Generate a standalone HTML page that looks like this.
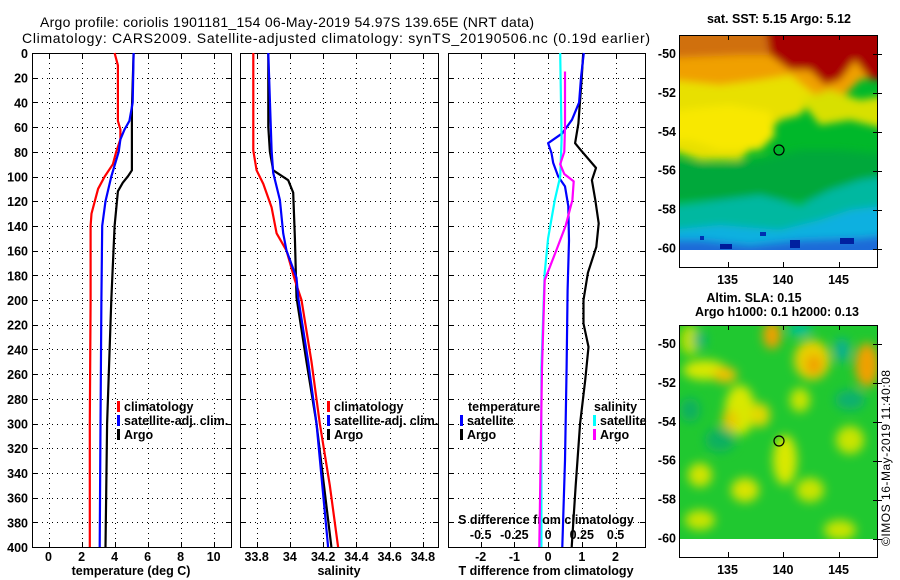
<!DOCTYPE html>
<html><head><meta charset="utf-8">
<style>
html,body{margin:0;padding:0;background:#fff;}
svg{display:block;font-family:"Liberation Sans",sans-serif;}
.t{font-size:12.5px;font-weight:bold;fill:#000;}
.ttl{font-size:14px;fill:#000;}
</style></head>
<body>
<svg id="chart" width="900" height="580" viewBox="0 0 900 580" xmlns="http://www.w3.org/2000/svg">
<defs>
<filter id="blur1" x="-20%" y="-20%" width="140%" height="140%"><feGaussianBlur stdDeviation="4"/></filter>
<filter id="blur2" x="-20%" y="-20%" width="140%" height="140%"><feGaussianBlur stdDeviation="5"/></filter>
<clipPath id="clipm1"><rect x="680" y="35" width="198" height="215"/></clipPath>
<clipPath id="clipm2"><rect x="680" y="325" width="198" height="214"/></clipPath>
</defs>
<text class="ttl" x="40" y="27" textLength="494">Argo profile: coriolis 1901181_154 06-May-2019 54.97S 139.65E (NRT data)</text>
<text class="ttl" x="22" y="43" textLength="628">Climatology: CARS2009. Satellite-adjusted climatology: synTS_20190506.nc (0.19d earlier)</text>

<!-- Map 1 SST -->
<g clip-path="url(#clipm1)">
<rect x="680" y="35" width="198" height="215" fill="#00b82a"/>
<g filter="url(#blur1)">
<path d="M670 25 H890 V75 L860 80 L845 95 L820 110 L790 100 L760 120 L730 110 L700 115 L670 112 Z" fill="#f0a000"/>
<path d="M670 25 H890 V50 L800 55 L740 55 L670 58 Z" fill="#d07010"/>
<path d="M765 25 H890 V78 L870 80 L855 60 L840 80 L825 85 L810 70 L790 70 L770 55 Z" fill="#a80000"/>
<path d="M670 80 L720 85 L760 80 L790 75 L815 95 L800 115 L780 120 L760 140 L740 160 L700 160 L670 150 Z" fill="#e8e000"/>
<path d="M800 100 L830 90 L860 100 L890 95 V130 L850 120 L820 125 Z" fill="#d8e000"/>
<path d="M670 112 L700 108 L730 105 L770 112 L775 135 L760 150 L720 150 L690 140 L670 140 Z" fill="#f8e800"/>
<path d="M670 160 L720 165 L760 160 L800 150 L840 150 L890 155 V200 H670 Z" fill="#00a83a"/>
<path d="M670 205 L720 200 L760 195 L800 205 L830 190 L860 180 L890 175 V260 H670 Z" fill="#00b8a0"/>
<path d="M670 230 L720 225 L780 230 L820 220 L850 210 L890 205 V260 H670 Z" fill="#10b0e0"/>
<path d="M670 240 L700 240 L750 245 L800 240 L860 238 L890 235 V260 H670 Z" fill="#1e6ad8"/>
</g>
<rect x="720" y="244" width="12" height="5" fill="#001a9a"/>
<rect x="790" y="240" width="10" height="8" fill="#0020a0"/>
<rect x="840" y="238" width="14" height="6" fill="#0020a0"/>
<rect x="760" y="232" width="6" height="4" fill="#0030b0"/>
<rect x="700" y="236" width="4" height="4" fill="#0030b0"/>
</g>
<rect x="680" y="250" width="198" height="17" fill="#fff"/>
<rect x="679.5" y="35.5" width="198" height="232" fill="none" stroke="#000" stroke-width="1"/>
<circle cx="779" cy="150" r="5" fill="none" stroke="#000" stroke-width="1.2"/>
<text class="t" x="779" y="23" text-anchor="middle">sat. SST: 5.15 Argo: 5.12</text>

<!-- Map 2 SLA -->
<g clip-path="url(#clipm2)">
<rect x="680" y="325" width="198" height="214" fill="#20c830"/>
<g filter="url(#blur2)">
<ellipse cx="690" cy="340" rx="10" ry="15" fill="#b8e000"/>
<ellipse cx="705" cy="370" rx="22" ry="10" fill="#d8e800"/>
<ellipse cx="725" cy="375" rx="12" ry="8" fill="#f0c000"/>
<ellipse cx="740" cy="410" rx="15" ry="25" fill="#d8e800"/>
<ellipse cx="730" cy="420" rx="8" ry="10" fill="#e8c800"/>
<ellipse cx="760" cy="415" rx="10" ry="12" fill="#e0d800"/>
<ellipse cx="772" cy="335" rx="9" ry="14" fill="#f0a000"/>
<ellipse cx="812" cy="360" rx="18" ry="20" fill="#e8d000"/>
<ellipse cx="814" cy="365" rx="8" ry="10" fill="#f0a000"/>
<ellipse cx="867" cy="365" rx="12" ry="22" fill="#f0a000"/>
<ellipse cx="800" cy="400" rx="10" ry="12" fill="#c8e400"/>
<ellipse cx="785" cy="460" rx="12" ry="25" fill="#d8e800"/>
<ellipse cx="700" cy="475" rx="12" ry="12" fill="#d0e400"/>
<ellipse cx="745" cy="490" rx="14" ry="12" fill="#d8e400"/>
<ellipse cx="810" cy="490" rx="14" ry="12" fill="#c8e400"/>
<ellipse cx="850" cy="440" rx="14" ry="14" fill="#c8e400"/>
<ellipse cx="840" cy="530" rx="16" ry="10" fill="#c8e400"/>
<ellipse cx="700" cy="520" rx="15" ry="10" fill="#c8e400"/>
<ellipse cx="700" cy="340" rx="6" ry="8" fill="#00b080"/>
<ellipse cx="800" cy="330" rx="12" ry="6" fill="#00c0a0"/>
<ellipse cx="842" cy="350" rx="8" ry="12" fill="#10b090"/>
<ellipse cx="850" cy="400" rx="15" ry="10" fill="#10b070"/>
<ellipse cx="720" cy="440" rx="15" ry="12" fill="#10b060"/>
<ellipse cx="690" cy="410" rx="10" ry="12" fill="#10b060"/>
</g>
</g>
<rect x="680" y="539" width="198" height="18" fill="#fff"/>
<rect x="679.5" y="325.5" width="198" height="232" fill="none" stroke="#000" stroke-width="1"/>
<circle cx="779" cy="441" r="5" fill="none" stroke="#000" stroke-width="1.2"/>
<text class="t" x="754" y="302" text-anchor="middle">Altim. SLA: 0.15</text>
<text class="t" x="777" y="316" text-anchor="middle">Argo h1000: 0.1 h2000: 0.13</text>
<text x="0" y="0" font-size="12" textLength="176" transform="translate(890,546) rotate(-90)">©IMOS 16-May-2019 11:40:08</text>
<g id="dyn"></g>
</svg>
<script>
// ---------- data ----------
const depthTicks = [0,20,40,60,80,100,120,140,160,180,200,220,240,260,280,300,320,340,360,380,400];
const tempTicks = [0,2,4,6,8,10];
const salTicks = [33.8,34,34.2,34.4,34.6,34.8];
const tdiffTicks = [-2,-1,0,1,2];
const sdiffTicks = [-0.5,-0.25,0,0.25,0.5];
const sdiffTickLabels = ["-0.5","-0.25","0","0.25","0.5"];
const lonTicks = [135,140,145];
const latTicks = [-50,-52,-54,-56,-58,-60];

const tClimDepth = [0,10,55,62,70,80,90,100,110,120,130,140,200,300,400];
const tClimVal   = [4.0,4.2,4.2,4.35,4.35,4.1,3.9,3.4,3.0,2.8,2.6,2.55,2.55,2.5,2.5];
const tSatDepth = [0,40,55,62,70,80,100,120,140,200,300,400];
const tSatVal   = [5.15,5.1,4.9,4.6,4.35,4.25,3.8,3.45,3.25,3.2,3.15,3.1];
const tArgoDepth = [0,45,95,100,105,112,140,200,300,400];
const tArgoVal   = [5.15,5.05,5.05,4.8,4.5,4.2,4.0,3.8,3.55,3.45];

const sClimDepth = [0,79,95,106,125,146,160,184,200,250,300,350,400];
const sClimVal   = [33.78,33.78,33.8,33.84,33.89,33.92,33.98,34.03,34.07,34.13,34.18,34.24,34.29];
const sSatDepth = [0,79,97,119,146,160,182,198,250,300,400];
const sSatVal   = [33.87,33.89,33.9,33.94,33.96,33.98,34.04,34.05,34.11,34.16,34.23];
const sArgoDepth = [0,60,80,95,103,113,150,198,250,300,400];
const sArgoVal   = [33.87,33.87,33.88,33.9,33.99,34.02,34.03,34.04,34.1,34.16,34.25];

const dTSatDepth = [0,19,40,54,65,73,81,89,100,108,124,152,192,255,330,400];
const dTSatVal   = [1.06,0.98,0.92,0.71,0.42,0.0,0.1,0.15,0.3,0.5,0.6,0.62,0.58,0.55,0.5,0.42];
const dTArgoDepth = [0,19,57,73,78,93,103,119,138,157,178,200,219,238,265,300,350,400];
const dTArgoVal   = [1.04,1.0,0.9,0.8,0.95,1.42,1.3,1.4,1.5,1.43,1.18,1.05,1.05,1.2,1.1,0.95,0.82,0.7];
const dSSatDepth = [0,70,100,119,150,178,255,400];
const dSSatVal   = [0.09,0.1,0.09,0.05,0.0,-0.025,-0.05,-0.05];
const dSArgoDepth = [15,60,80,90,98,104,119,140,160,184,255,400];
const dSArgoVal   = [0.125,0.125,0.12,0.09,0.12,0.19,0.18,0.13,0.06,-0.025,-0.045,-0.065];

// ---------- helpers ----------
const NS = "http://www.w3.org/2000/svg";
const root = document.getElementById('dyn');
function mk(tag, attrs, parent){ const e=document.createElementNS(NS,tag); for(const k in attrs) e.setAttribute(k,attrs[k]); (parent||root).appendChild(e); return e; }
const Y0=53, Y1=547;
function yD(d){ return Y0 + d*(Y1-Y0)/400; }

const panels = [
  {x0:32, x1:231, lo:-1.0, hi:11.05, name:'temperature-panel'},
  {x0:240, x1:438, lo:33.7, hi:34.891, name:'salinity-panel'},
  {x0:448, x1:645, lo:-2.97, hi:2.875, name:'difference-panel'}
];
function xf(p,v){ return p.x0 + (v-p.lo)*(p.x1-p.x0)/(p.hi-p.lo); }

panels.forEach((p,i)=>{
  const g = mk('g',{});
  
  
  const fr = mk('rect',{x:p.x0+0.5,y:Y0+0.5,width:p.x1-p.x0,height:Y1-Y0,fill:'none',stroke:'#000','stroke-width':1},g);
  
  
  depthTicks.forEach(d=>{
    if(d===0||d===400) return;
    const y=Math.round(yD(d))+0.5;
    const l = mk('line',{x1:p.x0,x2:p.x1,y1:y,y2:y,stroke:'#000','stroke-dasharray':'1,4','stroke-width':1},g);
    
    
    mk('line',{x1:p.x0,x2:p.x0+5,y1:y,y2:y,stroke:'#000'},g);
    mk('line',{x1:p.x1-5,x2:p.x1,y1:y,y2:y,stroke:'#000'},g);
  });
  const ticks = i===0?tempTicks:(i===1?salTicks:tdiffTicks);
  ticks.forEach(t=>{
    const x=Math.round(xf(p,t))+0.5;
    const l = mk('line',{x1:x,x2:x,y1:Y0,y2:Y1,stroke:'#000','stroke-dasharray':'1,4','stroke-width':1},g);
    
    
    mk('line',{x1:x,x2:x,y1:Y0,y2:Y0+5,stroke:'#000'},g);
    mk('line',{x1:x,x2:x,y1:Y1-5,y2:Y1,stroke:'#000'},g);
    const tx = mk('text',{x:xf(p,t),y:561,'text-anchor':'middle','class':'t'},g);
    
    
    tx.textContent = String(t);
  });
});

// depth labels
depthTicks.forEach(d=>{
  const tx = mk('text',{x:28,y:yD(d)+5,'text-anchor':'end','class':'t'});
  
  
  tx.textContent = String(d);
});

// axis titles
[[131,'temperature (deg C)','temperature-axis-title'],[339,'salinity','salinity-axis-title'],[546,'T difference from climatology','t-difference-axis-title']].forEach(a=>{
  const tx = mk('text',{x:a[0],y:575,'text-anchor':'middle','class':'t'});
  
  
  tx.textContent=a[1];
});
{
  const tx = mk('text',{x:546,y:524,'text-anchor':'middle','class':'t'});
  
  
  tx.textContent='S difference from climatology';
  sdiffTicks.forEach((s,k)=>{
    const t = mk('text',{x:xf(panels[2],s*4),y:539,'text-anchor':'middle','class':'t'});
    
    
    t.textContent=sdiffTickLabels[k];
  });
}

function series(p, depths, vals, color, name, scale){
  const pts = depths.map((d,k)=> xf(p, vals[k]*(scale||1)).toFixed(1)+','+yD(d).toFixed(1)).join(' ');
  const l = mk('polyline',{points:pts,fill:'none',stroke:color,'stroke-width':2.2,'stroke-linejoin':'round'});
  
  
}
series(panels[0], tClimDepth, tClimVal, '#ff0000', 'temperature-climatology-line');
series(panels[0], tArgoDepth, tArgoVal, '#000000', 'temperature-argo-line');
series(panels[0], tSatDepth, tSatVal, '#0000ff', 'temperature-satellite-line');
series(panels[1], sArgoDepth, sArgoVal, '#000000', 'salinity-argo-line');
series(panels[1], sClimDepth, sClimVal, '#ff0000', 'salinity-climatology-line');
series(panels[1], sSatDepth, sSatVal, '#0000ff', 'salinity-satellite-line');
series(panels[2], dTArgoDepth, dTArgoVal, '#000000', 't-diff-argo-line');
series(panels[2], dTSatDepth, dTSatVal, '#0000ff', 't-diff-satellite-line');
series(panels[2], dSSatDepth, dSSatVal, '#00ffff', 's-diff-satellite-line', 4);
series(panels[2], dSArgoDepth, dSArgoVal, '#ff00ff', 's-diff-argo-line', 4);

function legend(x, y, color, label, name){
  const g = mk('g',{});
  
  
  if(color) mk('rect',{x:x,y:y-10,width:3,height:11,fill:color},g);
  const t = mk('text',{x:x+(color?7:0),y:y,'class':'t'},g);
  t.textContent = label;
}
legend(117,411,'#ff0000','climatology','legend-t-climatology');
legend(117,425,'#0000ff','satellite-adj. clim.','legend-t-satellite');
legend(117,439,'#000000','Argo','legend-t-argo');
legend(327,411,'#ff0000','climatology','legend-s-climatology');
legend(327,425,'#0000ff','satellite-adj. clim.','legend-s-satellite');
legend(327,439,'#000000','Argo','legend-s-argo');
legend(468,411,null,'temperature','legend-temperature-heading');
legend(460,425,'#0000ff','satellite','legend-diff-t-satellite');
legend(460,439,'#000000','Argo','legend-diff-t-argo');
legend(594,411,null,'salinity','legend-salinity-heading');
legend(593,425,'#00ffff','satellite','legend-diff-s-satellite');
legend(593,439,'#ff00ff','Argo','legend-diff-s-argo');

function mapAxes(top, bottomFrame, lat50y, labelY, prefix){
  const lonX = lon=> 783 + (lon-140)*11.1;
  const latY = lat=> lat50y + (-50-lat)*19.45;
  lonTicks.forEach(lon=>{
    const x=Math.round(lonX(lon))+0.5;
    mk('line',{x1:x,x2:x,y1:top,y2:top+5,stroke:'#000'});
    mk('line',{x1:x,x2:x,y1:bottomFrame-5,y2:bottomFrame,stroke:'#000'});
    const t=mk('text',{x:lonX(lon),y:labelY,'text-anchor':'middle','class':'t'});
    
    
    t.textContent=String(lon);
  });
  latTicks.forEach(lat=>{
    const y=Math.round(latY(lat))+0.5;
    mk('line',{x1:873,x2:878,y1:y,y2:y,stroke:'#000'});
    mk('line',{x1:878,x2:882,y1:y,y2:y,stroke:'#000'});
    const t=mk('text',{x:676,y:latY(lat)+4,'text-anchor':'end','class':'t'});
    
    
    t.textContent=String(lat);
  });
}
mapAxes(35,267,54,284,'sst-map');
mapAxes(325,557,344,574,'sla-map');
</script>
</body></html>
